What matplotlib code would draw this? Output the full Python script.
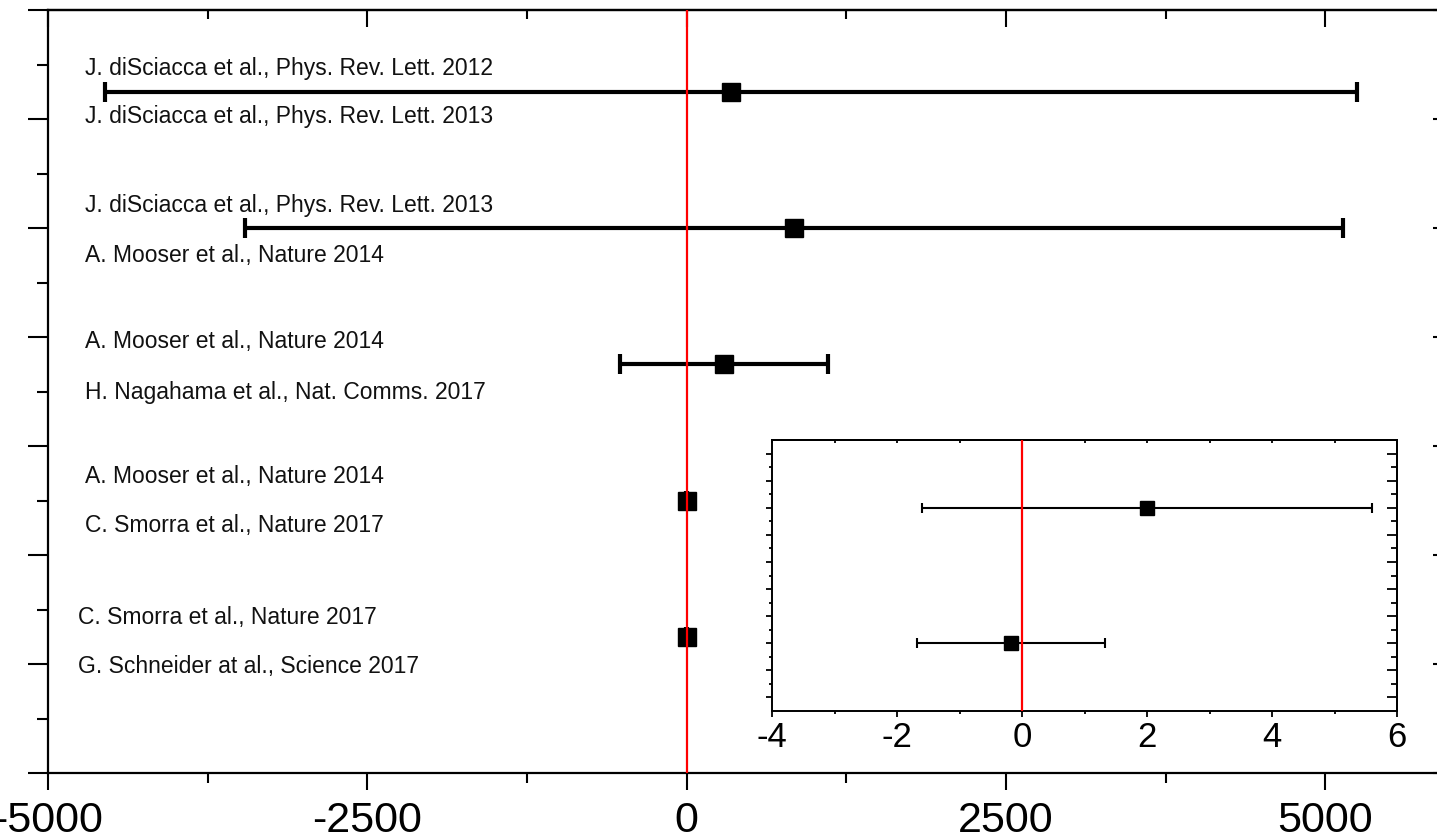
import matplotlib as mpl
mpl.use("Agg")
import matplotlib.pyplot as plt
from matplotlib.ticker import MultipleLocator, FixedLocator

plt.rcParams["font.family"] = ["Liberation Sans", "DejaVu Sans"]
plt.rcParams["axes.unicode_minus"] = False

# rows of the main forest plot (top to bottom)
row_y = [6.25, 5.0, 3.75, 2.5, 1.25]
row_center = [350, 840, 290, 2.0, -0.2]
row_err = [4900, 4300, 815, 3.6, 1.5]

# reference labels, two per row
labels = [
    "J. diSciacca et al., Phys. Rev. Lett. 2012",
    "J. diSciacca et al., Phys. Rev. Lett. 2013",
    "J. diSciacca et al., Phys. Rev. Lett. 2013",
    "A. Mooser et al., Nature 2014",
    "A. Mooser et al., Nature 2014",
    "H. Nagahama et al., Nat. Comms. 2017",
    "A. Mooser et al., Nature 2014",
    "C. Smorra et al., Nature 2017",
    "C. Smorra et al., Nature 2017",
    "G. Schneider at al., Science 2017",
]
label_x = [-4710] * 8 + [-4765] * 2
label_y = [6.46, 6.02, 5.21, 4.75, 3.96, 3.49, 2.72, 2.27, 1.43, 0.98]

# inset: zoom on the two most precise results
inset_y = [7.5, 2.5]
inset_center = [2.0, -0.18]
inset_err = [3.6, 1.5]

main_xticks = [-5000, -2500, 0, 2500, 5000]
inset_xticks = [-4, -2, 0, 2, 4, 6]

W, H = 1437, 839
fig = plt.figure(figsize=(W / 100, H / 100), dpi=100)

# main axes (right part runs off the figure, as in the cropped original)
ax = fig.add_axes([48 / W, (H - 773) / H, (1453 - 48) / W, 763 / H])
ax.set_xlim(-5000, 6000)
ax.set_ylim(0, 7)

ax.errorbar(row_center, row_y, xerr=row_err, fmt="s", color="black",
            ms=12.5, elinewidth=3, capsize=7, capthick=3, zorder=3)
ax.axvline(0, color="red", lw=1.6, zorder=5)

for t, x, y in zip(labels, label_x, label_y):
    ax.text(x, y, t, fontsize=16.5, va="center", ha="left", color="#111111")

ax.set_xticks(main_xticks)
ax.xaxis.set_minor_locator(MultipleLocator(1250))
ax.yaxis.set_major_locator(MultipleLocator(1))
ax.yaxis.set_minor_locator(MultipleLocator(0.5))
ax.set_yticklabels([])
ax.tick_params(axis="x", which="major", direction="out", length=12, width=1.5,
               labelsize=31, pad=8, top=False)
ax.tick_params(axis="x", which="minor", direction="out", length=7, width=1.5, top=False)
ax.tick_params(axis="y", which="major", direction="out", length=14.5, width=1.5, right=False)
ax.tick_params(axis="y", which="minor", direction="out", length=8, width=1.5, right=False)
for s in ax.spines.values():
    s.set_linewidth(1.6)

# mirrored ticks on top and right point inwards
top = ax.secondary_xaxis("top")
top.set_xticks(main_xticks)
top.xaxis.set_minor_locator(MultipleLocator(1250))
top.tick_params(which="major", direction="in", length=12, width=1.5, labeltop=False)
top.tick_params(which="minor", direction="in", length=6.5, width=1.5)
top.spines["top"].set_linewidth(1.6)

right = ax.secondary_yaxis("right")
right.yaxis.set_major_locator(MultipleLocator(1))
right.yaxis.set_minor_locator(MultipleLocator(0.5))
right.tick_params(which="major", direction="in", length=14.5, width=1.5, labelright=False)
right.tick_params(which="minor", direction="in", length=8, width=1.5)
right.spines["right"].set_linewidth(1.6)

# inset
ins = fig.add_axes([772 / W, (H - 711) / H, 625 / W, 271 / H])
ins.set_xlim(-4, 6)
ins.set_ylim(0, 10)
ins.errorbar(inset_center, inset_y, xerr=inset_err, fmt="s", color="black",
             ms=9.5, elinewidth=1.5, capsize=3.5, capthick=1.5, zorder=3)
ins.axvline(0, color="red", lw=1.6, zorder=5)

ins.set_xticks(inset_xticks)
ins.xaxis.set_minor_locator(MultipleLocator(1))
ins.yaxis.set_major_locator(FixedLocator([k + 0.5 for k in range(10)]))
ins.yaxis.set_minor_locator(FixedLocator(list(range(1, 10))))
ins.set_yticklabels([])
ins.tick_params(axis="x", which="major", direction="out", length=4.5, width=1.3,
                labelsize=25, pad=3, top=False)
ins.tick_params(axis="x", which="minor", direction="out", length=2.5, width=1.3, top=False)
ins.tick_params(axis="y", which="major", direction="out", length=4.5, width=1.3, right=False)
ins.tick_params(axis="y", which="minor", direction="out", length=2.5, width=1.3, right=False)
for s in ins.spines.values():
    s.set_linewidth(1.4)

itop = ins.secondary_xaxis("top")
itop.set_xticks(inset_xticks)
itop.xaxis.set_minor_locator(MultipleLocator(1))
itop.tick_params(which="both", direction="in", length=2.5, width=1.3, labeltop=False)
itop.spines["top"].set_linewidth(1.4)

iright = ins.secondary_yaxis("right")
iright.yaxis.set_major_locator(FixedLocator([k + 0.5 for k in range(10)]))
iright.yaxis.set_minor_locator(FixedLocator(list(range(1, 10))))
iright.tick_params(which="major", direction="in", length=7.5, width=1.3, labelright=False)
iright.tick_params(which="minor", direction="in", length=4.5, width=1.3)
iright.spines["right"].set_linewidth(1.4)

fig.savefig("out.png", dpi=100)
